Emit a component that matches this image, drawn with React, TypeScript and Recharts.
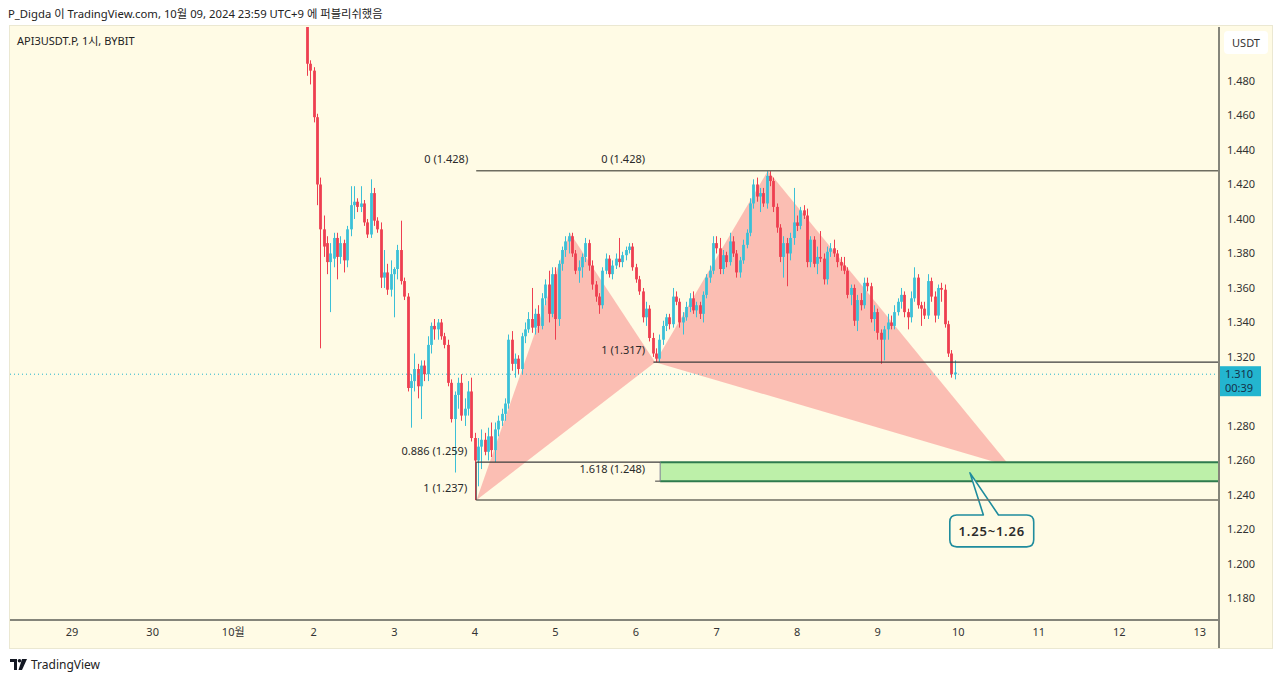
import React from 'react'
import { ComposedChart, Bar, XAxis, YAxis, ReferenceLine, ReferenceArea, ReferenceDot } from 'recharts'

// hourly candles [open, high, low, close], hour 0 = Oct 2 00:00 (UTC+9)
type Candle = [number, number, number, number]

const oct1: Candle[] = [
  [1.530, 1.535, 1.483, 1.490], [1.490, 1.492, 1.478, 1.486],
]
const oct2: Candle[] = [
  [1.486, 1.488, 1.456, 1.459], [1.459, 1.461, 1.408, 1.420], [1.420, 1.424, 1.325, 1.394], [1.394, 1.402, 1.378, 1.384],
  [1.386, 1.390, 1.368, 1.375], [1.375, 1.386, 1.346, 1.380], [1.377, 1.392, 1.372, 1.389], [1.389, 1.392, 1.365, 1.378],
  [1.378, 1.390, 1.374, 1.386], [1.386, 1.388, 1.369, 1.376], [1.376, 1.396, 1.372, 1.394], [1.394, 1.419, 1.390, 1.408],
  [1.408, 1.419, 1.400, 1.410], [1.410, 1.412, 1.404, 1.407], [1.407, 1.419, 1.404, 1.409], [1.409, 1.411, 1.396, 1.398],
  [1.398, 1.400, 1.389, 1.391], [1.391, 1.423, 1.389, 1.415], [1.415, 1.418, 1.396, 1.399], [1.399, 1.401, 1.392, 1.394],
  [1.394, 1.398, 1.360, 1.366], [1.366, 1.382, 1.360, 1.369], [1.369, 1.374, 1.356, 1.359], [1.359, 1.376, 1.355, 1.368],
]
const oct3: Candle[] = [
  [1.368, 1.372, 1.343, 1.371], [1.371, 1.385, 1.365, 1.382], [1.382, 1.399, 1.362, 1.364], [1.364, 1.366, 1.353, 1.355],
  [1.355, 1.357, 1.300, 1.302], [1.302, 1.310, 1.279, 1.306], [1.306, 1.322, 1.300, 1.313], [1.313, 1.316, 1.296, 1.303],
  [1.303, 1.318, 1.284, 1.315], [1.315, 1.318, 1.306, 1.310], [1.310, 1.332, 1.306, 1.327], [1.327, 1.340, 1.322, 1.338],
  [1.338, 1.342, 1.330, 1.336], [1.336, 1.342, 1.330, 1.340], [1.340, 1.342, 1.330, 1.332], [1.332, 1.334, 1.325, 1.327],
  [1.327, 1.330, 1.303, 1.305], [1.305, 1.307, 1.282, 1.284], [1.284, 1.300, 1.253, 1.298], [1.298, 1.308, 1.290, 1.305],
  [1.305, 1.310, 1.283, 1.286], [1.286, 1.296, 1.280, 1.290], [1.290, 1.306, 1.286, 1.300], [1.300, 1.308, 1.271, 1.273],
]
const oct4: Candle[] = [
  [1.273, 1.276, 1.237, 1.260], [1.260, 1.273, 1.245, 1.268], [1.268, 1.278, 1.255, 1.272], [1.272, 1.276, 1.263, 1.265],
  [1.265, 1.279, 1.260, 1.274], [1.274, 1.282, 1.262, 1.266], [1.266, 1.282, 1.259, 1.278], [1.278, 1.286, 1.274, 1.283],
  [1.283, 1.290, 1.280, 1.287], [1.287, 1.296, 1.283, 1.293], [1.293, 1.333, 1.290, 1.330], [1.330, 1.335, 1.312, 1.316],
  [1.316, 1.322, 1.308, 1.319], [1.319, 1.321, 1.310, 1.313], [1.313, 1.334, 1.310, 1.332], [1.332, 1.340, 1.328, 1.336],
  [1.336, 1.346, 1.334, 1.342], [1.342, 1.360, 1.334, 1.337], [1.337, 1.348, 1.333, 1.345], [1.345, 1.350, 1.334, 1.338],
  [1.338, 1.357, 1.336, 1.354], [1.354, 1.365, 1.350, 1.362], [1.362, 1.370, 1.340, 1.345], [1.345, 1.372, 1.343, 1.368],
]
const oct5: Candle[] = [
  [1.368, 1.372, 1.330, 1.342], [1.342, 1.376, 1.338, 1.374], [1.374, 1.384, 1.370, 1.382], [1.382, 1.390, 1.378, 1.387],
  [1.387, 1.392, 1.380, 1.390], [1.390, 1.392, 1.378, 1.380], [1.380, 1.382, 1.368, 1.370], [1.370, 1.376, 1.363, 1.372],
  [1.372, 1.380, 1.366, 1.378], [1.378, 1.389, 1.375, 1.386], [1.386, 1.388, 1.370, 1.373], [1.373, 1.376, 1.359, 1.362],
  [1.362, 1.364, 1.352, 1.355], [1.355, 1.357, 1.345, 1.350], [1.350, 1.372, 1.348, 1.370], [1.370, 1.380, 1.368, 1.377],
  [1.377, 1.379, 1.366, 1.368], [1.368, 1.376, 1.365, 1.373], [1.373, 1.380, 1.371, 1.377], [1.377, 1.389, 1.372, 1.375],
  [1.375, 1.381, 1.372, 1.379], [1.379, 1.384, 1.376, 1.382], [1.382, 1.386, 1.380, 1.384], [1.384, 1.386, 1.370, 1.372],
]
const oct6: Candle[] = [
  [1.372, 1.374, 1.363, 1.365], [1.365, 1.367, 1.356, 1.358], [1.358, 1.360, 1.340, 1.343], [1.343, 1.352, 1.338, 1.348],
  [1.348, 1.350, 1.329, 1.331], [1.331, 1.334, 1.320, 1.322], [1.322, 1.325, 1.317, 1.319], [1.319, 1.333, 1.317, 1.330],
  [1.330, 1.341, 1.327, 1.338], [1.338, 1.345, 1.335, 1.343], [1.343, 1.345, 1.336, 1.339], [1.339, 1.360, 1.337, 1.355],
  [1.355, 1.358, 1.350, 1.352], [1.352, 1.354, 1.337, 1.340], [1.340, 1.346, 1.333, 1.343], [1.343, 1.352, 1.341, 1.349],
  [1.349, 1.357, 1.346, 1.354], [1.354, 1.358, 1.345, 1.347], [1.347, 1.352, 1.343, 1.350], [1.350, 1.352, 1.342, 1.345],
  [1.345, 1.358, 1.340, 1.356], [1.356, 1.368, 1.354, 1.366], [1.366, 1.373, 1.363, 1.370], [1.370, 1.390, 1.368, 1.386],
]
const oct7: Candle[] = [
  [1.386, 1.390, 1.380, 1.383], [1.383, 1.389, 1.368, 1.371], [1.371, 1.382, 1.368, 1.379], [1.379, 1.381, 1.372, 1.375],
  [1.375, 1.392, 1.373, 1.387], [1.387, 1.390, 1.378, 1.380], [1.380, 1.382, 1.366, 1.369], [1.369, 1.378, 1.366, 1.376],
  [1.376, 1.388, 1.374, 1.385], [1.385, 1.394, 1.383, 1.392], [1.392, 1.412, 1.390, 1.409], [1.409, 1.423, 1.406, 1.420],
  [1.420, 1.424, 1.410, 1.413], [1.413, 1.418, 1.404, 1.415], [1.415, 1.418, 1.407, 1.409], [1.409, 1.428, 1.406, 1.425],
  [1.425, 1.428, 1.419, 1.422], [1.422, 1.424, 1.404, 1.407], [1.407, 1.409, 1.392, 1.395], [1.395, 1.397, 1.375, 1.378],
  [1.378, 1.390, 1.366, 1.386], [1.386, 1.389, 1.361, 1.380], [1.380, 1.392, 1.376, 1.389], [1.389, 1.418, 1.385, 1.398],
]
const oct8: Candle[] = [
  [1.398, 1.402, 1.393, 1.396], [1.396, 1.407, 1.394, 1.405], [1.405, 1.408, 1.400, 1.402], [1.402, 1.406, 1.372, 1.375],
  [1.375, 1.390, 1.372, 1.388], [1.388, 1.390, 1.372, 1.374], [1.374, 1.384, 1.368, 1.378], [1.378, 1.393, 1.375, 1.377],
  [1.377, 1.380, 1.362, 1.365], [1.365, 1.384, 1.362, 1.381], [1.381, 1.386, 1.378, 1.383], [1.383, 1.388, 1.378, 1.380],
  [1.380, 1.382, 1.372, 1.375], [1.375, 1.378, 1.370, 1.373], [1.373, 1.378, 1.368, 1.370], [1.370, 1.372, 1.354, 1.356],
  [1.356, 1.362, 1.350, 1.360], [1.360, 1.362, 1.338, 1.341], [1.341, 1.356, 1.335, 1.353], [1.353, 1.357, 1.347, 1.350],
  [1.350, 1.366, 1.348, 1.363], [1.363, 1.366, 1.358, 1.361], [1.361, 1.363, 1.340, 1.342], [1.342, 1.350, 1.335, 1.346],
]
const oct9: Candle[] = [
  [1.346, 1.348, 1.330, 1.334], [1.334, 1.336, 1.316, 1.330], [1.330, 1.338, 1.318, 1.336], [1.336, 1.345, 1.330, 1.340],
  [1.340, 1.344, 1.336, 1.338], [1.338, 1.350, 1.336, 1.346], [1.346, 1.354, 1.344, 1.352], [1.352, 1.360, 1.348, 1.356],
  [1.356, 1.358, 1.343, 1.346], [1.346, 1.348, 1.336, 1.343], [1.343, 1.358, 1.340, 1.354], [1.354, 1.372, 1.352, 1.366],
  [1.366, 1.368, 1.348, 1.350], [1.350, 1.352, 1.338, 1.348], [1.348, 1.352, 1.342, 1.344], [1.344, 1.368, 1.342, 1.364],
  [1.364, 1.366, 1.352, 1.355], [1.355, 1.358, 1.340, 1.344], [1.344, 1.362, 1.342, 1.360], [1.360, 1.363, 1.352, 1.359],
  [1.359, 1.362, 1.337, 1.339], [1.339, 1.341, 1.320, 1.322], [1.322, 1.324, 1.308, 1.310], [1.310, 1.318, 1.307, 1.311],
]

const sessions = [
  { start: -2, candles: oct1 },
  { start: 0, candles: oct2 },
  { start: 24, candles: oct3 },
  { start: 48, candles: oct4 },
  { start: 72, candles: oct5 },
  { start: 96, candles: oct6 },
  { start: 120, candles: oct7 },
  { start: 144, candles: oct8 },
  { start: 168, candles: oct9 },
]

const dayLabels = ['29', '30', '10월', '2', '3', '4', '5', '6', '7', '8', '9', '10', '11', '12', '13']
const priceTicks = [1.18, 1.2, 1.22, 1.24, 1.26, 1.28, 1.32, 1.34, 1.36, 1.38, 1.4, 1.42, 1.44, 1.46, 1.48]

// harmonic pattern points X, A, B, C, D (hour, price)
const patternX = { t: 48.5, p: 1.237 }
const patternA = { t: 76.3, p: 1.392 }
const patternB = { t: 101.7, p: 1.317 }
const patternC = { t: 135.3, p: 1.428 }
const patternD = { t: 207.5, p: 1.2565 }

const lastPrice = 1.31
const countdown = '00:39'

const X_MIN = -90.5
const X_MAX = 269.7
const Y_MIN = 1.1675
const Y_MAX = 1.5113

const UP = '#3bc0d7'
const DOWN = '#ee3f50'
const BG = '#fffbe5'
const LINE = '#6e6d60'
const FONT = '"Noto Sans", "Noto Sans CJK KR", sans-serif'

const data = sessions.flatMap((s) =>
  s.candles.map(([open, high, low, close], i) => ({ t: s.start + i, open, high, low, close, range: [low, high] }))
)

const CandleShape = (props: any) => {
  const { x, y, width, height, payload } = props
  if (!payload) return null
  const { open, close, high, low } = payload
  const top = Math.min(y, y + height)
  const h = Math.abs(height)
  const cx = Math.round(x + width / 2) + 0.5
  const k = high === low ? 0 : h / (high - low)
  const yo = top + (high - open) * k
  const yc = top + (high - close) * k
  const color = close >= open ? UP : DOWN
  return (
    <g>
      <line x1={cx} x2={cx} y1={top} y2={top + h} stroke={color} strokeWidth={1} />
      <rect x={cx - 1.4} y={Math.min(yo, yc)} width={2.8} height={Math.max(1, Math.abs(yc - yo))} fill={color} />
    </g>
  )
}

// draws a polygon inside the box a ReferenceArea gives for the points' extent
const polygonIn = (pts: { t: number; p: number }[], extra?: (px: any, py: any) => React.ReactNode) => (props: any) => {
  const { x, y, width, height } = props
  const ts = pts.map((q) => q.t)
  const ps = pts.map((q) => q.p)
  const t1 = Math.min(...ts), t2 = Math.max(...ts)
  const p1 = Math.min(...ps), p2 = Math.max(...ps)
  const px = (t: number) => x + ((t - t1) / (t2 - t1)) * width
  const py = (p: number) => y + ((p2 - p) / (p2 - p1)) * height
  return (
    <g>
      {!extra && (
        <polygon points={pts.map((q) => `${px(q.t)},${py(q.p)}`).join(' ')} fill="#f23645" fillOpacity={0.31} stroke="none" />
      )}
      {extra && extra(px, py)}
    </g>
  )
}

const fibLabel = (text: string, dx: number, dy: number) => (props: any) => (
  <text x={props.cx + dx} y={props.cy + dy} textAnchor="end" fontSize={11} fill="#2a2a2a" fontFamily={FONT}>
    {text}
  </text>
)

// callout box in (hour, price)
const callout = { t1: 189.5, t2: 214.5, pTop: 1.2284, pBottom: 1.2099, tipT: 195.5, tipP: 1.2528, baseL: 199.5, baseR: 204.0 }

const calloutShape = polygonIn(
  [
    { t: callout.t1, p: callout.pBottom },
    { t: callout.t2, p: callout.tipP },
  ],
  (px, py) => {
    const x1 = px(callout.t1), x2 = px(callout.t2)
    const y1 = py(callout.pTop), y2 = py(callout.pBottom)
    const r = 7
    const bl = px(callout.baseL), br = px(callout.baseR)
    const d = `M${x1 + r},${y1} L${bl},${y1} L${px(callout.tipT)},${py(callout.tipP)} L${br},${y1} L${x2 - r},${y1} Q${x2},${y1} ${x2},${y1 + r} L${x2},${y2 - r} Q${x2},${y2} ${x2 - r},${y2} L${x1 + r},${y2} Q${x1},${y2} ${x1},${y2 - r} L${x1},${y1 + r} Q${x1},${y1} ${x1 + r},${y1} Z`
    return (
      <g>
        <path d={d} fill={BG} stroke="#1f8c9d" strokeWidth={1.6} strokeLinejoin="round" />
        <text x={(x1 + x2) / 2} y={(y1 + y2) / 2 + 5} textAnchor="middle" fontSize={13} fontWeight={600} letterSpacing={0.8} fill="#2b2b2b" fontFamily={FONT}>
          1.25~1.26
        </text>
      </g>
    )
  }
)

const zoneShape = (props: any) => {
  const { x, y, width, height } = props
  return (
    <g>
      <rect x={x} y={y} width={width} height={height} fill="#bdf0a9" />
      <line x1={x} x2={x + width} y1={y} y2={y} stroke="#2e7a4e" strokeWidth={2} />
      <line x1={x} x2={x + width} y1={y + height} y2={y + height} stroke="#2e7a4e" strokeWidth={2} />
      <line x1={x} x2={x} y1={y} y2={y + height} stroke="#7d7f93" strokeWidth={1} />
    </g>
  )
}

const PriceTag = (props: any) => {
  const vb = props.viewBox
  if (!vb) return null
  const x = vb.x + vb.width
  return (
    <g>
      <rect x={x} y={vb.y - 8} width={42} height={30} fill="#23b5cf" />
      <text x={x + 6} y={vb.y + 4} fontSize={11} fill="#14324a" fontFamily={FONT}>{lastPrice.toFixed(3)}</text>
      <text x={x + 6} y={vb.y + 18} fontSize={11} fill="#14324a" fontFamily={FONT}>{countdown}</text>
    </g>
  )
}

export default function App() {
  const dayTicks = dayLabels.map((_, i) => (i - 3) * 24)
  const tickFmt = (v: number) => dayLabels[Math.round(v / 24) + 3] ?? ''
  const zoneStart = 103.2

  return (
    <div style={{ position: 'absolute', left: 0, top: 0, width: 1280, height: 681, background: '#ffffff', fontFamily: FONT }}>
      <div style={{ position: 'absolute', left: 8, top: 5, fontSize: 11.3, color: '#222', whiteSpace: 'nowrap' }}>
        P_Digda 이 TradingView.com, 10월 09, 2024 23:59 UTC+9 에 퍼블리쉬했음
      </div>
      <div style={{ position: 'absolute', left: 9, top: 25, width: 1262, height: 622, background: BG, border: '1px solid #ebe8d2' }} />
      <div style={{ position: 'absolute', left: 17, top: 32, fontSize: 11, color: '#222' }}>API3USDT.P, 1시, BYBIT</div>
      <div style={{ position: 'absolute', left: 1218, top: 620, width: 2, height: 28, background: '#85857a' }} />

      <div style={{ position: 'absolute', left: 0, top: 0 }}>
        <ComposedChart width={1280} height={681} data={data} margin={{ top: 27, right: 10, bottom: 34, left: 10 }}>
          <XAxis
            dataKey="t"
            type="number"
            domain={[X_MIN, X_MAX]}
            allowDataOverflow
            ticks={dayTicks}
            tickFormatter={tickFmt}
            tickLine={false}
            axisLine={{ stroke: '#85857a', strokeWidth: 2 }}
            height={27}
            tick={{ fontSize: 11, fill: '#333', fontFamily: FONT }}
          />
          <YAxis
            orientation="right"
            type="number"
            domain={[Y_MIN, Y_MAX]}
            allowDataOverflow
            ticks={priceTicks}
            tickFormatter={(v: number) => v.toFixed(3)}
            tickLine={false}
            axisLine={{ stroke: '#85857a', strokeWidth: 2 }}
            width={51}
            tick={{ fontSize: 11, fill: '#333', fontFamily: FONT }}
          />

          <Bar dataKey="range" barSize={3} shape={CandleShape} isAnimationActive={false} />

          <ReferenceLine y={lastPrice} stroke="#23b5cf" strokeDasharray="1 3" strokeWidth={1} label={<PriceTag />} ifOverflow="visible" />

          <ReferenceArea
            x1={patternX.t} x2={patternB.t} y1={patternX.p} y2={patternA.p}
            shape={polygonIn([patternX, patternA, patternB])}
            ifOverflow="visible"
          />
          <ReferenceArea
            x1={patternB.t} x2={patternD.t} y1={patternD.p} y2={patternC.p}
            shape={polygonIn([patternB, patternC, patternD])}
            ifOverflow="visible"
          />

          <ReferenceArea x1={zoneStart} x2={X_MAX} y1={1.248} y2={1.259} shape={zoneShape} ifOverflow="visible" />

          <ReferenceLine segment={[{ x: 48.4, y: 1.428 }, { x: X_MAX, y: 1.428 }]} stroke={LINE} strokeWidth={1.5} ifOverflow="visible" />
          <ReferenceLine segment={[{ x: patternB.t - 0.5, y: 1.317 }, { x: X_MAX, y: 1.317 }]} stroke="#3d3d3d" strokeWidth={1.2} ifOverflow="visible" />
          <ReferenceLine segment={[{ x: 48.4, y: 1.259 }, { x: zoneStart, y: 1.259 }]} stroke="#3d3d3d" strokeWidth={1.2} ifOverflow="visible" />
          <ReferenceLine segment={[{ x: 48.4, y: 1.237 }, { x: X_MAX, y: 1.237 }]} stroke={LINE} strokeWidth={1.5} ifOverflow="visible" />
          <ReferenceLine segment={[{ x: 48.4, y: 1.237 }, { x: 48.4, y: 1.259 }]} stroke="#3d3d3d" strokeWidth={1} ifOverflow="visible" />
          <ReferenceLine segment={[{ x: patternB.t, y: 1.248 }, { x: zoneStart, y: 1.248 }]} stroke="#3d3d3d" strokeWidth={1} ifOverflow="visible" />

          <ReferenceArea
            x1={callout.t1} x2={callout.t2} y1={callout.pBottom} y2={callout.tipP}
            shape={calloutShape}
            ifOverflow="visible"
          />

          <ReferenceDot x={48.4} y={1.428} r={0} shape={fibLabel('0 (1.428)', -8, -8)} ifOverflow="visible" />
          <ReferenceDot x={98.7} y={1.428} r={0} shape={fibLabel('0 (1.428)', 0, -8)} ifOverflow="visible" />
          <ReferenceDot x={patternB.t} y={1.317} r={0} shape={fibLabel('1 (1.317)', -10, -8)} ifOverflow="visible" />
          <ReferenceDot x={48.4} y={1.259} r={0} shape={fibLabel('0.886 (1.259)', -9, -7)} ifOverflow="visible" />
          <ReferenceDot x={48.4} y={1.237} r={0} shape={fibLabel('1 (1.237)', -9, -8)} ifOverflow="visible" />
          <ReferenceDot x={patternB.t} y={1.248} r={0} shape={fibLabel('1.618 (1.248)', -10, -8)} ifOverflow="visible" />
        </ComposedChart>
      </div>

      <div style={{ position: 'absolute', left: 1224, top: 31, width: 44, height: 23, background: '#ffffff', borderRadius: 4, fontSize: 11, color: '#333', textAlign: 'center', lineHeight: '23px' }}>
        USDT
      </div>
      <div style={{ position: 'absolute', left: 10, top: 656, display: 'flex', alignItems: 'center', gap: 4, fontSize: 12, color: '#222' }}>
        <svg width={17} height={11} viewBox="0 0 17 11">
          <path d="M0 0h7v11H4V3H0z" fill="#131722" />
          <circle cx={9.5} cy={1.8} r={1.8} fill="#131722" />
          <path d="M12 0h5l-5 11H8.5z" fill="#131722" />
        </svg>
        <span>TradingView</span>
      </div>
    </div>
  )
}
